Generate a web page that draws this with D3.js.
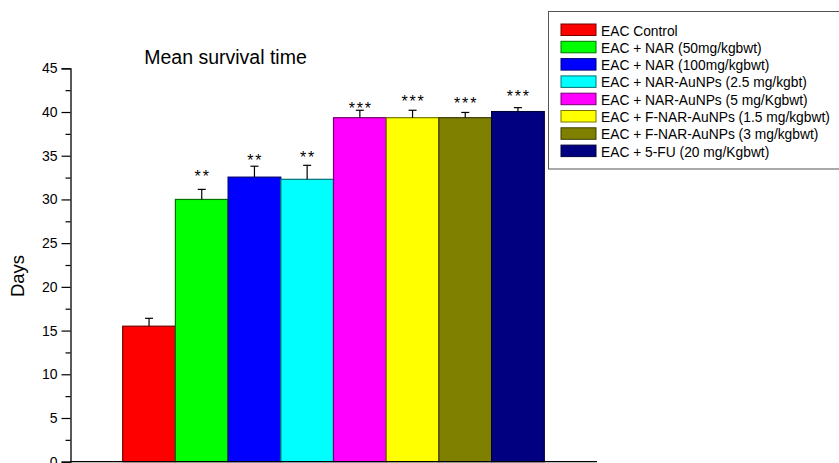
<!DOCTYPE html>
<html><head><meta charset="utf-8">
<script src="https://cdn.jsdelivr.net/npm/d3@7"></script>
<style>body{margin:0;background:#fff} svg{display:block;font-family:Arial,"Liberation Sans",sans-serif}</style>
</head><body><svg id="c" width="839" height="463"></svg>
<script>
const categories = [
  "EAC Control",
  "EAC + NAR (50mg/kgbwt)",
  "EAC + NAR (100mg/kgbwt)",
  "EAC + NAR-AuNPs (2.5 mg/kgbt)",
  "EAC + NAR-AuNPs (5 mg/Kgbwt)",
  "EAC + F-NAR-AuNPs (1.5 mg/kgbwt)",
  "EAC + F-NAR-AuNPs (3 mg/kgbwt)",
  "EAC + 5-FU (20 mg/Kgbwt)"
];
const means  = [15.5, 30.0, 32.55, 32.3, 39.35, 39.35, 39.35, 40.05];
const errors = [0.9, 1.15, 1.25, 1.6, 0.85, 0.85, 0.6, 0.45];
const colors = ["#ff0000","#00ff00","#0000ff","#00ffff","#ff00ff","#ffff00","#808000","#000080"];
const stars  = ["", "**", "**", "**", "***", "***", "***", "***"];
const starLevel = [null, 33.1, 34.85, 35.2, 40.8, 41.6, 41.45, 42.25];
const yTicks = [0,5,10,15,20,25,30,35,40,45];
const yMinorTicks = [2.5,7.5,12.5,17.5,22.5,27.5,32.5,37.5,42.5];
const title = "Mean survival time";
const yLabel = "Days";

const svg = d3.select("#c");
const x = d3.scaleBand().domain(categories).range([70, 597]).paddingInner(0).paddingOuter(1);
const y = d3.scaleLinear().domain([0, 45]).range([461.7, 68.3]);

// bars
svg.append("g").selectAll("rect").data(categories).join("rect")
  .attr("x", d => x(d))
  .attr("y", (d,i) => y(means[i]))
  .attr("width", x.bandwidth())
  .attr("height", (d,i) => y(0) - y(means[i]))
  .attr("fill", (d,i) => colors[i])
  .attr("stroke", (d,i) => d3.color(colors[i]).darker(2.2))
  .attr("stroke-width", 1.2);

// error bars
const eg = svg.append("g").attr("stroke", "#000").attr("stroke-width", 1.2);
categories.forEach((d,i) => {
  const cx = x(d) + x.bandwidth()/2;
  eg.append("line").attr("x1", cx).attr("x2", cx).attr("y1", y(means[i])).attr("y2", y(means[i]+errors[i]));
  eg.append("line").attr("x1", cx-4).attr("x2", cx+4).attr("y1", y(means[i]+errors[i])).attr("y2", y(means[i]+errors[i]));
});

// stars
svg.append("g").selectAll("text").data(categories).join("text")
  .attr("x", d => x(d) + x.bandwidth()/2 + 0.9)
  .attr("y", (d,i) => starLevel[i] == null ? 0 : y(starLevel[i]) + 9.3)
  .attr("text-anchor", "middle")
  .attr("font-size", 16)
  .attr("letter-spacing", 1.8)
  .text((d,i) => stars[i]);

// y axis
const yAxis = d3.axisLeft(y).tickValues(yTicks).tickSize(9).tickPadding(4).tickFormat(d3.format("d"));
const ga = svg.append("g").attr("transform", "translate(70.5,0)").call(yAxis);
ga.select(".domain").attr("stroke", "#000").attr("stroke-width", 1.3);
ga.selectAll(".tick line").attr("stroke", "#000").attr("stroke-width", 1.2);
ga.selectAll(".tick text").attr("font-size", 14).attr("font-family", "Arial, 'Liberation Sans', sans-serif").attr("fill", "#000");
const gm = svg.append("g").attr("transform", "translate(70.5,0)")
  .call(d3.axisLeft(y).tickValues(yMinorTicks).tickSize(5).tickFormat(""));
gm.select(".domain").remove();
gm.selectAll(".tick line").attr("stroke", "#000").attr("stroke-width", 1.2);

// x axis line
svg.append("line").attr("x1", 70).attr("x2", 597).attr("y1", y(0)).attr("y2", y(0))
  .attr("stroke", "#000").attr("stroke-width", 1.3);

// title
svg.append("text").attr("x", 225.5).attr("y", 63.5).attr("text-anchor", "middle")
  .attr("font-size", 19.5).text(title);

// y label
svg.append("text").attr("transform", "translate(24,276) rotate(-90)").attr("text-anchor", "middle")
  .attr("font-size", 18.5).text(yLabel);

// legend
const lg = svg.append("g");
lg.append("rect").attr("x", 548.5).attr("y", 11.5).attr("width", 300).attr("height", 157.5)
  .attr("fill", "#fff").attr("stroke", "#555").attr("stroke-width", 1);
categories.forEach((d,i) => {
  const top = 24 + i*17.3;
  lg.append("rect").attr("x", 561).attr("y", top).attr("width", 35).attr("height", 11.5)
    .attr("fill", colors[i]).attr("stroke", d3.color(colors[i]).darker(2.2)).attr("stroke-width", 1);
  lg.append("text").attr("x", 601).attr("y", top + 11.5).attr("font-size", 13.8).text(d);
});
</script></body></html>
